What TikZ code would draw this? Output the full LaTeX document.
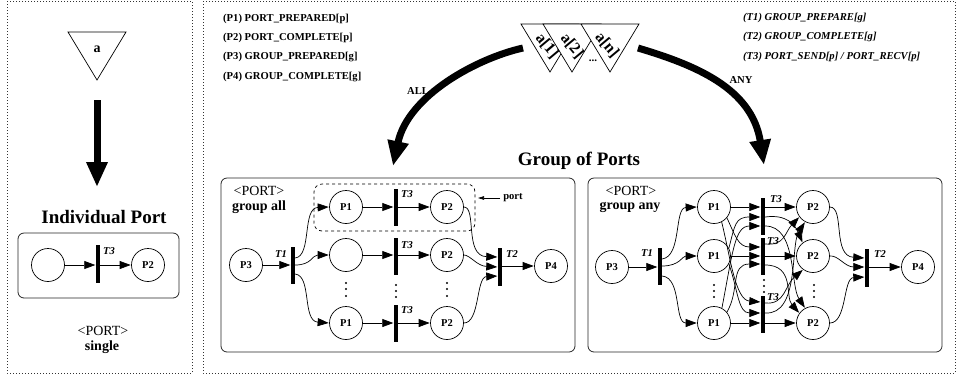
\documentclass[tikz,border=0pt]{standalone}
\usepackage{fontspec}
\setmainfont{Liberation Serif}
\usetikzlibrary{arrows.meta,calc}
\newcommand{\vdotcol}[4]{\fill (#1,#2) circle (1.2pt) (#1,#3) circle (1.2pt) (#1,#4) circle (1.2pt);}
\tikzset{
 panel/.style={draw=black!80,dash pattern=on 1pt off 2pt,line width=0.7pt},
 portbox/.style={draw=black!85,line width=0.8pt,rounded corners=6pt},
 place/.style={circle,draw,fill=white,line width=0.7pt,minimum size=33pt,inner sep=0pt,font=\bfseries\fontsize{10.5}{12}\selectfont},
 bar/.style={rectangle,fill=black,inner sep=0pt,minimum width=4pt,minimum height=37.5pt},
 edge/.style={line width=0.7pt,-{Triangle[length=11pt,width=8pt]},shorten >=0.5pt},
 lbl/.style={inner sep=0pt,font=\bfseries\itshape\fontsize{10.5}{12}\selectfont},
 head/.style={inner sep=0pt,font=\bfseries\fontsize{19}{22}\selectfont},
 porttxt/.style={inner sep=0pt,font=\fontsize{14}{16}\selectfont},
 boldtxt/.style={inner sep=0pt,font=\bfseries\fontsize{14}{16}\selectfont},
 listb/.style={anchor=west,inner sep=0pt,font=\bfseries\fontsize{10.6}{12}\selectfont},
 listi/.style={anchor=west,inner sep=0pt,font=\bfseries\itshape\fontsize{10.6}{12}\selectfont},
 tri/.style={draw,fill=white,line width=0.7pt,line join=miter},
 big/.style={line width=7pt,-{Triangle[length=25pt,width=20pt]}},
 trilab/.style={inner sep=0pt,rotate=-50,font=\bfseries\fontsize{16}{17}\selectfont},
}
\begin{document}
\begin{tikzpicture}[x=1pt,y=-1pt]
\useasboundingbox (0,0) rectangle (956,376);
% panels
\draw[panel] (7,1) rectangle (192,373);
\draw[panel] (203,1) rectangle (955,373);
% left
\draw[tri] (68,32) -- (126,32) -- (97,80) -- cycle;
\node[boldtxt] (a) at (97,49) {a};
\coordinate (as) at (97,100); \coordinate (ae) at (97,187);
\draw[big] (as) -- (ae);
\node[head] (ip) at (104,217) {Individual Port};
\node[portbox,minimum width=161pt,minimum height=65pt,inner sep=0pt] (b0) at (98.5,265.5) {};
\node[place] (s1) at (48,265) {};
\node[bar] (st) at (98,264) {};
\node[place] (s2) at (148,265) {P2};
\node[lbl] (st3) at (109,251) {T3};
\draw[edge] (s1.east) -- (s1.east -| st.west);
\draw[edge] (st.east |- s2.west) -- (s2.west);
\node[porttxt] (sp) at (103,331) {<PORT>};
\node[boldtxt] (ss) at (102,347) {single};
% legends
\node[listb] (l1) at (223,19) {(P1) PORT\_PREPARED[p]};
\node[listb] (l2) at (223,38) {(P2) PORT\_COMPLETE[p]};
\node[listb] (l3) at (223,57) {(P3) GROUP\_PREPARED[g]};
\node[listb] (l4) at (223,77) {(P4) GROUP\_COMPLETE[g]};
\node[listi] (r1) at (743,18) {(T1) GROUP\_PREPARE[g]};
\node[listi] (r2) at (743,37) {(T2) GROUP\_COMPLETE[g]};
\node[listi] (r3) at (743,57) {(T3) PORT\_SEND[p] / PORT\_RECV[p]};
% triangles
\draw[tri] (521,24) -- (579,24) -- (550,72) -- cycle;
\draw[tri] (543,24) -- (601,24) -- (572,72) -- cycle;
\draw[tri] (581,24) -- (639,24) -- (610,72) -- cycle;
\node[font=\bfseries\fontsize{11}{12}\selectfont,inner sep=0pt] (d) at (593,61) {...};
\node[trilab] (a1) at (547,46) {a[1]};
\node[trilab] (a2) at (572,46) {a[2]};
\node[trilab] (an) at (607,45) {a[n]};
\coordinate (alls) at (523,48); \coordinate (alle) at (393,166);
\coordinate (anys) at (638,48); \coordinate (anye) at (764,165);
\draw[big] (alls) .. controls (478,58) and (408,95) .. (alle);
\draw[big] (anys) .. controls (695,65) and (752,88) .. (anye);
\node[listb,anchor=center] (all) at (418,91) {ALL};
\node[listb,anchor=center] (any) at (741,80) {ANY};
\node[head] (gp) at (579,161) {Group of Ports};
% group all
\node[portbox,minimum width=354pt,minimum height=174pt,inner sep=0pt] (b1) at (398,265) {};
\node[porttxt] (t1a) at (259,191) {<PORT>};
\node[boldtxt] (t1b) at (259,207) {group all};
\node[draw,dashed,rounded corners=8pt,line width=0.7pt,minimum width=161pt,minimum height=47pt,inner sep=0pt] (pb) at (394.5,207.5) {};
\node[listb,anchor=center] (pl) at (513,198) {port};
\draw[line width=0.7pt,-{Triangle[length=6pt,width=3.5pt]}] (pl.west) ++(-3,0) coordinate (pc) (pc) -- (478,198);
\node[place] (ap3) at (246,265) {P3};
\node[bar] (at1) at (293,265.5) {};
\node[lbl] (at1l) at (281,254) {T1};
\foreach \n/\y/\t/\tl/\lab in {1/207/207.5/194/P1,2/255/256.5/245/{},3/323/323.5/310/P1}{
 \node[place] (ap1\n) at (346,\y) {\lab};
 \node[bar] (at3\n) at (396,\t) {};
 \node[lbl] at (407,\tl) (at3l\n) {T3};
 \node[place] (ap2\n) at (447,\y) {P2};
 \draw[edge] (ap1\n.east) -- (ap1\n.east -| at3\n.west);
 \draw[edge] (at3\n.east |- ap2\n.west) -- (ap2\n.west);
}
\node[bar,minimum height=38pt] (at2) at (500,267) {};
\node[lbl] (at2l) at (512,254) {T2};
\node[place] (ap4) at (551,266) {P4};
\draw[edge] (ap3.east) -- (ap3.east -| at1.west);
\draw[edge] (at2.east |- ap4.west) -- (ap4.west);
\draw[edge] (at1.east |- 0,258) .. controls (312,256) and (302,208) .. (ap11.west);
\draw[edge] (at1.east |- 0,265) .. controls (312,265) and (312,255) .. (ap12.west);
\draw[edge] (at1.east |- 0,274) .. controls (312,276) and (302,321) .. (ap13.west);
\draw[edge] (ap21.east) .. controls (477,207) and (464,256) .. (at2.west |- 0,257);
\draw[edge] (ap22.east) .. controls (470,255) and (477,266) .. (at2.west |- 0,267);
\draw[edge] (ap23.east) .. controls (480,323) and (476,277) .. (at2.west |- 0,276);
\vdotcol{346}{283}{289}{296}
\vdotcol{396}{285}{291}{297}
\vdotcol{447}{283}{289}{296}
% group any
\node[portbox,minimum width=354pt,minimum height=174pt,inner sep=0pt] (b2) at (765,265) {};
\node[porttxt] (t2a) at (631,191) {<PORT>};
\node[boldtxt] (t2b) at (630,207) {group any};
\node[bar] (bt1) at (660,266.5) {};
\node[lbl] (bt1l) at (647,253) {T1};
\node[place] (bp3) at (612,267) {P3};
\node[bar] (bt31) at (763,216.5) {};
\node[bar] (bt32) at (763,256.5) {};
\node[bar] (bt33) at (763,314.5) {};
\foreach \n/\y in {1/207,2/256,3/323}{
 \node[place] (bp1\n) at (714,\y) {P1};
 \node[place] (bp2\n) at (813,\y) {P2};
}
\node[bar,minimum height=38pt] (bt2) at (867,267.5) {};
\node[lbl] (bt2l) at (880,254) {T2};
\node[place] (bp4) at (918,267) {P4};
\draw[edge] (bp3.east) -- (bp3.east -| bt1.west);
\draw[edge] (bt2.east |- bp4.west) -- (bp4.west);
\draw[edge] (bt1.east |- 0,259) .. controls (682,256) and (674,208) .. (bp11.west);
\draw[edge] (bt1.east |- 0,266) .. controls (680,266) and (682,256) .. (bp12.west);
\draw[edge] (bt1.east |- 0,276) .. controls (682,278) and (674,323) .. (bp13.west);
\draw[edge] (bp21.east) .. controls (845,207) and (832,256) .. (bt2.west |- 0,258);
\draw[edge] (bp22.east) .. controls (838,255) and (845,267) .. (bt2.west |- 0,267);
\draw[edge] (bp23.east) .. controls (847,323) and (843,278) .. (bt2.west |- 0,277);
% P1 to T3
\draw[edge] (bp11.east) -- (bp11.east -| bt31.west);
\draw[edge] (bp12.east) -- (bp12.east -| bt32.west);
\draw[edge] (bp13.east) -- (bp13.east -| bt33.west);
\draw[edge] (bp11.297) .. controls (730,255) and (735,300) .. (bt33.west |- 0,302);
\draw[edge] (bp11.320) .. controls (735,235) and (738,247) .. (bt32.west |- 0,247);
\draw[edge] (bp12.28) .. controls (735,225) and (735,217) .. (bt31.west |- 0,217);
\draw[edge] (bp12.-28) .. controls (738,290) and (738,313) .. (bt33.west |- 0,313);
\draw[edge] (bp13.62) .. controls (733,250) and (735,226) .. (bt31.west |- 0,226);
\draw[edge] (bp13.40) .. controls (740,290) and (730,264) .. (bt32.west |- 0,264);
% T3 to P2
\draw[edge] (bt31.east |- bp21.west) -- (bp21.west);
\draw[edge] (bt32.east |- bp22.west) -- (bp22.west);
\draw[edge] (bt33.east |- bp23.west) -- (bp23.west);
\draw[edge] (bt31.east |- 0,217) .. controls (787,214) and (795,225) .. (bp22.128);
\draw[edge] (bt31.east |- 0,226) .. controls (797,226) and (790,285) .. (bp23.118);
\draw[edge] (bt32.east |- 0,244) .. controls (785,246) and (785,232) .. (bp21.216);
\draw[edge] (bt32.east |- 0,265) .. controls (795,265) and (785,297) .. (bp23.144);
\draw[edge] (bt33.east |- 0,313) .. controls (800,315) and (790,245) .. (bp21.242);
\draw[edge] (bt33.east |- 0,303) .. controls (785,305) and (785,285) .. (bp22.234);
\node[lbl] at (776,199) (bt3l1) {T3};
\node[lbl] at (773,241) (bt3l2) {T3};
\node[lbl] at (773,297) (bt3l3) {T3};
\vdotcol{714}{285}{291}{297}
\vdotcol{764}{280}{286}{292}
\vdotcol{814}{285}{291}{297}
\end{tikzpicture}
\end{document}
